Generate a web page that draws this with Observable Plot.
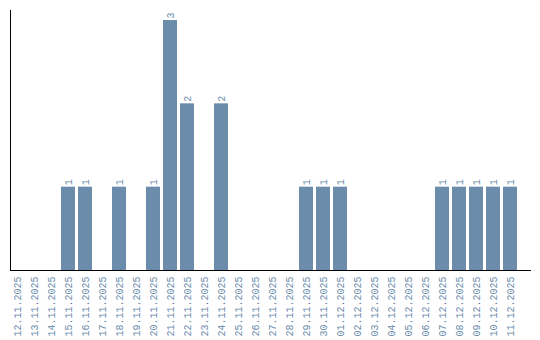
<!DOCTYPE html>
<html><head><meta charset="utf-8">
<script src="https://cdn.jsdelivr.net/npm/d3@7"></script>
<script src="https://cdn.jsdelivr.net/npm/@observablehq/plot@0.6"></script>
<style>body{margin:0;background:#fff}</style>
</head><body><div id="chart"></div>
<script>
const dates = ["12.11.2025","13.11.2025","14.11.2025","15.11.2025","16.11.2025","17.11.2025","18.11.2025","19.11.2025","20.11.2025","21.11.2025","22.11.2025","23.11.2025","24.11.2025","25.11.2025","26.11.2025","27.11.2025","28.11.2025","29.11.2025","30.11.2025","01.12.2025","02.12.2025","03.12.2025","04.12.2025","05.12.2025","06.12.2025","07.12.2025","08.12.2025","09.12.2025","10.12.2025","11.12.2025"];
const counts = [0,0,0,1,1,0,1,0,1,3,2,0,2,0,0,0,0,1,1,1,0,0,0,0,0,1,1,1,1,1];
const data = dates.map((d,i)=>({date:d, count:counts[i]}));
const nonzero = data.filter(d=>d.count>0);
const color = "#6b8cab";
const chart = Plot.plot({
  width: 540, height: 340,
  marginLeft: 10, marginRight: 9, marginTop: 10, marginBottom: 70,
  style: {fontFamily: "Liberation Mono", fontSize: "10px", color: "#000", background: "#fff"},
  x: {domain: dates, paddingInner: 0.176, paddingOuter: 0.41, align: 0, label: null, tickSize: 0, tickRotate: -90, tickPadding: 6},
  y: {domain: [0, 3.12], axis: "left", ticks: [], label: null, line: true},
  marks: [
    Plot.barY(nonzero, {x: "date", y: "count", fill: color}),
    Plot.text(nonzero, {x: "date", y: "count", text: d=>String(d.count), rotate: -90, textAnchor: "start", dy: -2, fill: color, fontSize: 10, lineAnchor: "middle"}),
    Plot.ruleY([0], {stroke: "#000"})
  ]
});
chart.querySelectorAll("[aria-label='x-axis tick label'] text, [aria-label='x-axis'] text").forEach(t=>t.setAttribute("fill", color));
chart.querySelectorAll("[aria-label='y-axis'] path, [aria-label='y-axis'] line").forEach(t=>t.setAttribute("stroke", "#000"));
document.getElementById("chart").appendChild(chart);
</script>
</body></html>
